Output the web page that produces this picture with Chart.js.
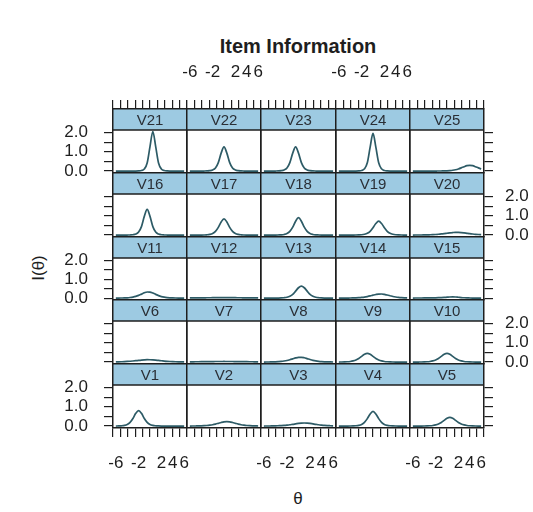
<!DOCTYPE html>
<html>
<head>
<meta charset="utf-8">
<script src="https://cdn.jsdelivr.net/npm/chart.js@4/dist/chart.umd.min.js"></script>
<style>
  html, body { margin: 0; padding: 0; background: #ffffff; }
  #wrap { position: relative; width: 533px; height: 512px; overflow: hidden;
          font-family: "Liberation Sans", Arial, sans-serif; color: #1e1e1e; }
  .txt { position: absolute; white-space: nowrap; line-height: 1; }
  #title { font-weight: bold; font-size: 20px; }
  #ylab, #xlab { font-size: 17px; }
  canvas.panel { position: absolute; }
</style>
</head>
<body>
<div id="wrap">
  <div class="txt" id="title">Item Information</div>
  <div class="txt" id="ylab">I(θ)</div>
  <div class="txt" id="xlab">θ</div>
</div>
<script>
// ability grid (theta) shared by every item
const theta = [-6, -5.5, -5, -4.5, -4, -3.5, -3, -2.5, -2, -1.5, -1, -0.5, 0,
               0.5, 1, 1.5, 2, 2.5, 3, 3.5, 4, 4.5, 5, 5.5, 6];

// item information I(theta) for each item
const V1  = [0.002,0.006,0.015,0.036,0.084,0.19,0.39,0.66,0.80,0.66,0.39,0.19,0.084,0.036,0.015,0.006,0.002,0.001,0,0,0,0,0,0,0];
const V2  = [0.002,0.003,0.005,0.007,0.012,0.019,0.030,0.047,0.070,0.103,0.143,0.184,0.217,0.230,0.217,0.184,0.143,0.103,0.070,0.047,0.030,0.019,0.012,0.007,0.005];
const V3  = [0.002,0.004,0.005,0.008,0.011,0.017,0.024,0.034,0.049,0.067,0.092,0.114,0.137,0.154,0.16,0.154,0.137,0.114,0.092,0.067,0.049,0.034,0.024,0.017,0.011];
const V4  = [0,0,0,0.001,0.003,0.007,0.016,0.038,0.087,0.194,0.385,0.63,0.76,0.63,0.385,0.194,0.087,0.038,0.016,0.007,0.003,0.001,0,0,0];
const V5  = [0,0.001,0.001,0.002,0.004,0.008,0.016,0.031,0.059,0.108,0.187,0.296,0.403,0.45,0.403,0.296,0.187,0.108,0.059,0.031,0.016,0.008,0.004,0.002,0.001];
const V6  = [0.009,0.012,0.017,0.023,0.032,0.043,0.056,0.071,0.088,0.103,0.115,0.122,0.121,0.113,0.100,0.084,0.070,0.053,0.040,0.030,0.022,0.016,0.011,0.008,0.006];
const V7  = [0.012,0.014,0.016,0.017,0.019,0.022,0.024,0.025,0.027,0.029,0.030,0.030,0.031,0.030,0.030,0.029,0.027,0.025,0.024,0.022,0.019,0.017,0.016,0.014,0.012];
const V8  = [0.002,0.003,0.005,0.008,0.013,0.022,0.034,0.054,0.082,0.122,0.168,0.214,0.245,0.248,0.222,0.178,0.131,0.090,0.059,0.038,0.024,0.015,0.009,0.006,0.003];
const V9  = [0.002,0.004,0.008,0.016,0.031,0.059,0.108,0.187,0.296,0.403,0.45,0.403,0.296,0.187,0.108,0.059,0.031,0.016,0.008,0.004,0.002,0.001,0.001,0,0];
const V10 = [0,0,0.002,0.004,0.008,0.016,0.031,0.059,0.108,0.187,0.296,0.403,0.45,0.403,0.296,0.187,0.108,0.059,0.031,0.016,0.008,0.004,0.002,0.001,0.001];
const V11 = [0.002,0.003,0.006,0.010,0.018,0.032,0.055,0.090,0.144,0.213,0.282,0.326,0.321,0.269,0.198,0.132,0.082,0.049,0.028,0.016,0.009,0.005,0.003,0.002,0.001];
const V12 = [0.011,0.012,0.013,0.015,0.016,0.017,0.019,0.020,0.021,0.021,0.022,0.022,0.023,0.022,0.022,0.021,0.021,0.020,0.019,0.017,0.016,0.015,0.013,0.012,0.011];
const V13 = [0,0,0,0.001,0.002,0.004,0.009,0.021,0.045,0.096,0.195,0.37,0.55,0.64,0.55,0.37,0.195,0.096,0.045,0.021,0.009,0.004,0.002,0.001,0];
const V14 = [0.001,0.002,0.002,0.004,0.006,0.010,0.015,0.024,0.037,0.055,0.082,0.116,0.156,0.193,0.217,0.219,0.199,0.163,0.127,0.088,0.060,0.040,0.026,0.016,0.010];
const V15 = [0.004,0.005,0.006,0.007,0.008,0.010,0.012,0.014,0.017,0.021,0.027,0.036,0.048,0.060,0.066,0.060,0.046,0.031,0.019,0.011,0.007,0.004,0.003,0.002,0.001];
const V16 = [0,0,0,0,0.002,0.005,0.016,0.052,0.157,0.44,0.97,1.33,0.97,0.44,0.157,0.052,0.016,0.005,0.002,0,0,0,0,0,0];
const V17 = [0,0,0,0.001,0.002,0.005,0.014,0.034,0.081,0.19,0.40,0.68,0.84,0.68,0.40,0.19,0.081,0.034,0.014,0.005,0.002,0.001,0,0,0];
const V18 = [0,0,0,0.001,0.002,0.005,0.012,0.031,0.077,0.19,0.41,0.72,0.90,0.72,0.41,0.19,0.077,0.031,0.012,0.005,0.002,0.001,0,0,0];
const V19 = [0,0,0,0,0,0.001,0.003,0.008,0.018,0.041,0.09,0.195,0.38,0.60,0.72,0.60,0.38,0.195,0.09,0.041,0.018,0.008,0.003,0.001,0];
const V20 = [0.002,0.003,0.004,0.005,0.008,0.011,0.016,0.022,0.031,0.043,0.058,0.076,0.096,0.116,0.131,0.140,0.139,0.129,0.112,0.092,0.072,0.055,0.040,0.029,0.021];
const V21 = [0,0,0,0,0,0,0,0,0.006,0.027,0.11,0.42,1.27,2.05,1.27,0.42,0.11,0.027,0.006,0,0,0,0,0,0];
const V22 = [0,0,0,0,0,0.002,0.006,0.019,0.056,0.16,0.44,0.93,1.25,0.93,0.44,0.16,0.056,0.019,0.006,0.002,0,0,0,0,0];
const V23 = [0,0,0,0,0.002,0.006,0.019,0.056,0.16,0.44,0.93,1.25,0.93,0.44,0.16,0.056,0.019,0.006,0.002,0,0,0,0,0,0];
const V24 = [0,0,0,0,0,0,0,0.007,0.029,0.115,0.43,1.24,1.95,1.24,0.43,0.115,0.029,0.007,0,0,0,0,0,0,0];
const V25 = [0,0,0,0,0,0,0.001,0.001,0.002,0.003,0.005,0.008,0.015,0.025,0.041,0.068,0.109,0.164,0.227,0.281,0.30,0.281,0.227,0.164,0.109];

const itemNames = ['V1','V2','V3','V4','V5','V6','V7','V8','V9','V10','V11','V12','V13',
                   'V14','V15','V16','V17','V18','V19','V20','V21','V22','V23','V24','V25'];
const itemSeries = [V1,V2,V3,V4,V5,V6,V7,V8,V9,V10,V11,V12,V13,V14,V15,V16,V17,V18,V19,V20,V21,V22,V23,V24,V25];

// axis labelling
const xTickLabels = [-6, -2, 2, 4, 6];
const yTickLabels = [0, 1, 2];
const yTickMarks  = [0, 0.5, 1, 1.5, 2];

// ---- layout ----
const NCOL = 5, NROW = 5;
const gridLeft = 113, gridRight = 484, gridTop = 109, gridBottom = 428;
const stripH = 21;
const M = 60;                    // room around each panel for its axes
const xMin = -6.5, xMax = 6.5;
const yMin = -0.1, yTop = 2.13;
const tickLen = 9;
const ink = '#1e1e1e';
const lineColor = '#2d5b66';
const stripFill = '#9dcae2';
const tickFont = { family: '"Liberation Sans", Arial, sans-serif', size: 17 };

const xTickMarks = [];
for (let k = 0; k <= 10; k++) xTickMarks.push(+(xMin + k * 1.3).toFixed(2));
const xAllTicks = xTickMarks.concat(xTickLabels).sort((a, b) => a - b);
const isXLabel = v => xTickLabels.some(t => Math.abs(t - v) < 1e-9);
const isYLabel = v => yTickLabels.some(t => Math.abs(t - v) < 1e-9);

const wrap = document.getElementById('wrap');

function place(id, cx, cy, rotate) {
  const el = document.getElementById(id);
  el.style.left = cx + 'px';
  el.style.top = cy + 'px';
  el.style.transform = 'translate(-50%,-50%)' + (rotate ? ' rotate(-90deg)' : '');
}
place('title', 298, 46);
place('ylab', 38, 268, true);
place('xlab', 298, 498);

// lattice-style strip on top of each panel
const stripPlugin = {
  id: 'strip',
  beforeDraw(chart, args, opts) {
    const { ctx, chartArea: a } = chart;
    ctx.save();
    ctx.fillStyle = stripFill;
    ctx.fillRect(a.left, a.top, a.right - a.left, stripH);
    ctx.strokeStyle = ink;
    ctx.lineWidth = 1.5;
    ctx.beginPath();
    ctx.moveTo(a.left, a.top + stripH);
    ctx.lineTo(a.right, a.top + stripH);
    ctx.stroke();
    ctx.fillStyle = '#2a2f36';
    ctx.font = '15px "Liberation Sans", Arial, sans-serif';
    ctx.textAlign = 'center';
    ctx.textBaseline = 'middle';
    ctx.fillText(opts.label, (a.left + a.right) / 2, a.top + stripH / 2 + 1);
    ctx.restore();
  }
};

function xScale(position, showMarks, showLabels, pad) {
  return {
    type: 'linear', position: position, axis: 'x',
    min: xMin, max: xMax,
    afterFit: s => { s.height = M; },
    afterBuildTicks: s => { s.ticks = xAllTicks.map(v => ({ value: v })); },
    grid: {
      drawOnChartArea: false, drawTicks: showMarks, tickLength: tickLen, lineWidth: 1.2,
      tickColor: ctx => (ctx.tick && isXLabel(ctx.tick.value)) ? 'rgba(0,0,0,0)' : ink
    },
    border: { display: true, color: ink, width: 1.5 },
    ticks: {
      display: showLabels, autoSkip: false, maxRotation: 0, minRotation: 0,
      padding: pad, font: tickFont, color: ink,
      callback: v => isXLabel(v) ? String(v) : ''
    }
  };
}

function yScale(position, showMarks, showLabels, pad, yMax) {
  return {
    type: 'linear', position: position, axis: 'y',
    min: yMin, max: yMax,
    afterFit: s => { s.width = M; },
    afterBuildTicks: s => { s.ticks = yTickMarks.map(v => ({ value: v })); },
    grid: { drawOnChartArea: false, drawTicks: showMarks, tickLength: tickLen, lineWidth: 1.2, tickColor: ink },
    border: { display: true, color: ink, width: 1.5 },
    ticks: {
      display: showLabels, autoSkip: false, padding: pad, font: tickFont, color: ink,
      callback: v => isYLabel(v) ? v.toFixed(1) : ''
    }
  };
}

for (let r = 0; r < NROW; r++) {
  for (let c = 0; c < NCOL; c++) {
    const idx = (NROW - 1 - r) * NCOL + c;           // V1 sits bottom-left
    const x0 = Math.round(gridLeft + c * (gridRight - gridLeft) / NCOL);
    const x1 = Math.round(gridLeft + (c + 1) * (gridRight - gridLeft) / NCOL);
    const y0 = Math.round(gridTop + r * (gridBottom - gridTop) / NROW);
    const y1 = Math.round(gridTop + (r + 1) * (gridBottom - gridTop) / NROW);
    const w = x1 - x0, h = y1 - y0;
    const plotH = h - stripH;
    const yMax = yTop + (yTop - yMin) * stripH / plotH;

    const cv = document.createElement('canvas');
    cv.className = 'panel';
    cv.width = w + 2 * M;
    cv.height = h + 2 * M;
    cv.style.left = (x0 - M) + 'px';
    cv.style.top = (y0 - M) + 'px';
    wrap.appendChild(cv);

    const top = r === 0, bottom = r === NROW - 1, left = c === 0, right = c === NCOL - 1;

    new Chart(cv, {
      type: 'line',
      data: {
        datasets: [{
          data: theta.map((t, i) => ({ x: t, y: itemSeries[idx][i] })),
          borderColor: lineColor, borderWidth: 1.7,
          pointRadius: 0, cubicInterpolationMode: 'monotone',
          xAxisID: 'x', yAxisID: 'y'
        }]
      },
      options: {
        responsive: false, animation: false, events: [],
        devicePixelRatio: 1,
        layout: { padding: 0 },
        plugins: { legend: { display: false }, tooltip: { enabled: false }, strip: { label: itemNames[idx] } },
        scales: {
          x:  xScale('bottom', bottom, bottom && c % 2 === 0, 16),
          xT: xScale('top', top, top && c % 2 === 1, 17),
          y:  yScale('left', left, left && r % 2 === 0, 16, yMax),
          yR: yScale('right', right, right && r % 2 === 1, 12, yMax)
        }
      },
      plugins: [stripPlugin]
    });
  }
}
</script>
</body>
</html>
